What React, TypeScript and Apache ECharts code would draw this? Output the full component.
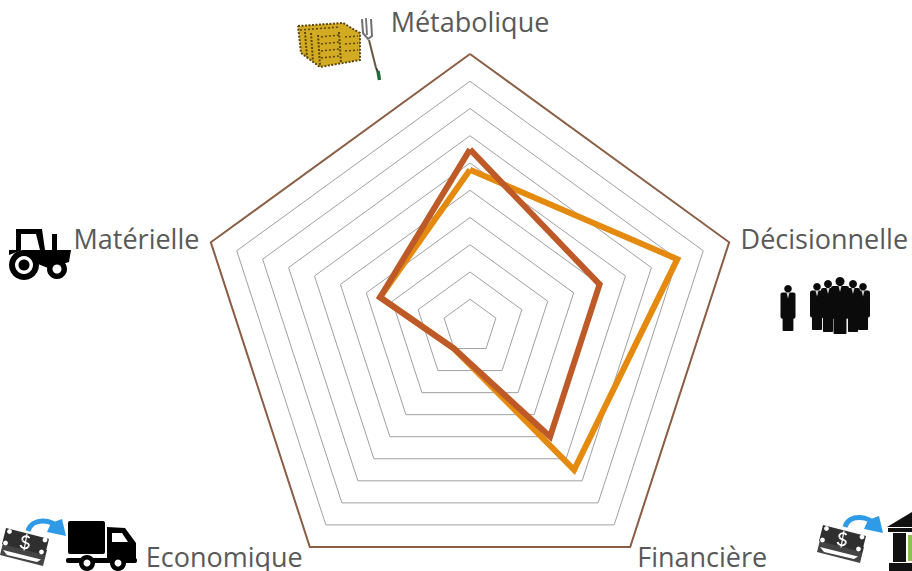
import React, { useEffect, useRef } from "react";
import * as echarts from "echarts";

const axisNames = ["Métabolique", "Matérielle", "Economique", "Financière", "Décisionnelle"];
const axisMax = 10;
const orangeValues = [5.75, 3.47, 1.0, 6.5, 8.0];
const rustValues = [6.5, 3.47, 1.0, 5.0, 5.0];

const CX = 470, CY = 326.5, R = 272.5;

const fill = (c: string) => ({ fill: c });
const rect = (x: number, y: number, w: number, h: number, c: string, r = 0) => ({ type: "rect", shape: { x, y, width: w, height: h, r }, style: fill(c), silent: true });
const circle = (cx: number, cy: number, r: number, c: string) => ({ type: "circle", shape: { cx, cy, r }, style: fill(c), silent: true });
const poly = (points: number[][], c: string) => ({ type: "polygon", shape: { points }, style: fill(c), silent: true });
const pline = (points: number[][], c: string, w: number, dash?: number[]) => ({ type: "polyline", shape: { points }, style: { stroke: c, lineWidth: w, fill: "none", lineDash: dash }, silent: true });
const curve = (x1: number, y1: number, cpx1: number, cpy1: number, cpx2: number, cpy2: number, x2: number, y2: number, c: string, w: number) => ({ type: "bezierCurve", shape: { x1, y1, cpx1, cpy1, cpx2, cpy2, x2, y2 }, style: { stroke: c, lineWidth: w, fill: "none" }, silent: true });

function person(cx: number, top: number, bottom: number, w: number, headR: number) {
  const shoulder = top + headR * 2;
  return [
    circle(cx, top + headR, headR, "#0b0b0b"),
    rect(cx - w / 2, shoulder, w, (bottom - shoulder) * 0.68, "#0b0b0b", 2),
    rect(cx - w * 0.36, shoulder + 8, w * 0.72, bottom - shoulder - 8, "#0b0b0b", 1),
    poly([[cx - 1.6, shoulder], [cx + 1.6, shoulder], [cx, shoulder + 6]], "#cfcfcf"),
  ];
}

function cash(ox: number, oy: number) {
  const note = (dx: number, dy: number, c: string) => poly([[ox + dx, oy + dy], [ox + dx + 43, oy + dy + 11], [ox + dx + 39, oy + dy + 27], [ox + dx - 4, oy + dy + 16]], c);
  const corner = (x: number, y: number) => circle(ox + x, oy + y, 2.4, "#ffffff");
  const sx = ox + 19.5, sy = oy + 13.5;
  return [
    note(-2, 11, "#444444"),
    poly([[ox - 3, oy + 22], [ox + 35, oy + 31.5], [ox + 31, oy + 34], [ox + 1, oy + 27]], "#ffffff"),
    note(0, 0, "#2f2f2f"),
    corner(3.5, 3.5), corner(39, 12), corner(35.5, 24), corner(-0.5, 15),
    curve(sx + 4, sy - 3.5, sx + 2, sy - 6.5, sx - 4.5, sy - 5.5, sx - 3, sy - 1, "#ffffff", 1.8),
    curve(sx - 3, sy - 1, sx - 1, sy + 2, sx + 5, sy + 1, sx + 3, sy + 5, "#ffffff", 1.8),
    curve(sx + 3, sy + 5, sx + 1, sy + 8, sx - 4, sy + 7, sx - 5, sy + 3.5, "#ffffff", 1.8),
    pline([[sx + 1.5, sy - 8], [sx - 1.5, sy + 9]], "#ffffff", 1.2),
  ];
}

function arrow(x1: number, y1: number, x2: number, y2: number) {
  return [
    curve(x1, y1, x1 + 4, y1 - 14, x2 - 12, y2 - 16, x2 - 6, y2 - 6, "#2f9ae6", 5),
    poly([[x2 - 14, y2 - 12], [x2 - 3, y2 - 16], [x2 + 1, y2 + 1], [x2 - 18, y2 - 3]], "#2f9ae6"),
  ];
}

function icons() {
  const d = "#5f4708";
  const hay = [
    poly([[298, 26], [343, 23], [360, 33], [360, 60], [320, 67], [301, 53]], "#d2ab22"),
    pline([[298, 26], [343, 23], [360, 33], [360, 60], [320, 67], [301, 53], [298, 26]], d, 2, [2, 1.5]),
    pline([[300, 30], [340, 27]], d, 1.5, [2, 2]),
    pline([[305, 32], [307, 57]], d, 2, [2, 1.5]),
    pline([[311, 33], [313, 61]], d, 2, [2, 1.5]),
    pline([[318, 35], [320, 65]], d, 2, [2, 1.5]),
    pline([[321, 37], [339, 35]], d, 1.5, [2, 2]),
    pline([[321, 44], [339, 42]], d, 1.5, [2, 2]),
    pline([[321, 51], [339, 49]], d, 1.5, [2, 2]),
    pline([[321, 58], [339, 56]], d, 1.5, [2, 2]),
    pline([[339, 32], [341, 63]], d, 2, [2, 1.5]),
    pline([[345, 37], [358, 36]], d, 1.5, [2, 2]),
    pline([[345, 44], [358, 43]], d, 1.5, [2, 2]),
    pline([[345, 51], [358, 50]], d, 1.5, [2, 2]),
    pline([[369, 40], [376, 68]], "#6b5a48", 2),
    pline([[376, 68], [378, 72]], "#3e3328", 2),
    pline([[378, 71], [379.5, 80]], "#1f6b3a", 3.5),
    pline([[362, 19], [363, 33], [368, 39], [372, 36], [371, 19]], "#707070", 2),
    pline([[366, 18], [367, 35]], "#707070", 1.8),
  ];

  const tractor = [
    poly([[16, 229], [42, 229], [45, 250], [40, 250], [36, 234], [21, 234], [21, 250], [16, 250]], "#000000"),
    rect(52, 234, 5, 18, "#000000"),
    poly([[9, 250], [71, 250], [69, 262], [48, 268], [38, 264], [22, 250], [9, 255]], "#000000"),
    circle(24, 265, 15, "#000000"),
    circle(24, 265, 9, "#ffffff"),
    circle(24, 265, 5.5, "#000000"),
    circle(57, 269, 10, "#000000"),
    circle(57, 269, 4.5, "#ffffff"),
  ];

  const people = [
    ...person(788, 285, 331, 15, 3.8),
    ...person(817, 283, 330, 14, 3.8),
    ...person(863, 283, 330, 14, 3.8),
    ...person(828, 280, 332, 14, 4),
    ...person(853, 280, 332, 14, 4),
    ...person(840, 277, 334, 18, 4.5),
  ];

  const truck = [
    rect(68, 521, 37, 33, "#000000", 2),
    poly([[107, 527], [125, 528], [136, 543], [136, 559], [107, 559]], "#000000"),
    poly([[112, 533], [122, 533], [128, 542], [112, 542]], "#ffffff"),
    rect(66, 558, 71, 5, "#000000", 2),
    circle(87, 563, 8, "#000000"), circle(87, 563, 3.5, "#ffffff"),
    circle(118, 563, 8, "#000000"), circle(118, 563, 3.5, "#ffffff"),
  ];

  const bank = [
    poly([[887, 527], [912, 512], [912, 527]], "#111111"),
    rect(888, 528, 24, 4, "#111111"),
    rect(893, 533, 13, 29, "#111111"),
    rect(908, 535, 4, 26, "#8cc152"),
    rect(889, 563, 23, 8, "#111111"),
  ];

  return [
    ...hay, ...tractor, ...people,
    ...cash(6, 528), ...arrow(28, 531, 65, 535), ...truck,
    ...cash(823, 525), ...arrow(845, 527, 882, 532), ...bank,
  ];
}

export default function App() {
  const ref = useRef<HTMLDivElement>(null);
  useEffect(() => {
    document.body.style.margin = "0";
    const chart = echarts.init(ref.current!, undefined, { renderer: "svg" });
    const shared = {
      center: [CX, CY],
      radius: R,
      shape: "polygon",
      startAngle: 90,
      axisLine: { show: false },
      axisTick: { show: false },
      axisLabel: { show: false },
      splitArea: { show: false },
    };
    chart.setOption({
      animation: false,
      backgroundColor: "#ffffff",
      radar: [
        {
          ...shared,
          splitNumber: 10,
          nameGap: 12,
          indicator: axisNames.map((name) => ({ name, min: 0, max: axisMax })),
          axisName: {
            color: "#595959",
            fontSize: 27,
            fontFamily: "Open Sans",
            formatter: (name: string) => (name === axisNames[0] ? `{top|${name}}` : name),
            rich: { top: { color: "#595959", fontSize: 27, fontFamily: "Open Sans", padding: [0, 0, 7, 0] } },
          },
          splitLine: { lineStyle: { color: "#a0a0a0", width: 1 } },
        },
        {
          ...shared,
          splitNumber: 1,
          axisName: { show: false },
          indicator: axisNames.map(() => ({ name: "", min: 0, max: axisMax })),
          splitLine: { lineStyle: { color: "#8b5e45", width: 2 } },
        },
      ],
      graphic: { elements: icons() },
      series: [
        {
          type: "radar",
          radarIndex: 0,
          symbol: "none",
          lineStyle: { color: "#e48a0e", width: 6, join: "miter" },
          data: [{ value: orangeValues, name: "Série 1" }],
        },
        {
          type: "radar",
          radarIndex: 0,
          symbol: "none",
          lineStyle: { color: "#be5a28", width: 6, join: "miter" },
          data: [{ value: rustValues, name: "Série 2" }],
        },
      ],
    });
    return () => chart.dispose();
  }, []);
  return <div ref={ref} style={{ position: "absolute", left: 0, top: 0, width: 912, height: 571 }} />;
}
